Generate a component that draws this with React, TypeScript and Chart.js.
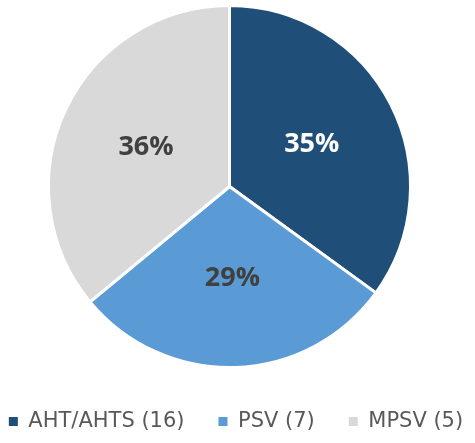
import React, { useEffect, useRef } from "react";
import { Chart, registerables } from "chart.js";

Chart.register(...registerables);

const categories = ["AHT/AHTS (16)", "PSV (7)", "MPSV (5)"];
const shares = [35, 29, 36];
const sliceColors = ["#1F4E79", "#5B9BD5", "#D9D9D9"];
const labelColors = ["#FFFFFF", "#404040", "#404040"];

const pieLabels = {
  id: "pieLabels",
  afterDatasetsDraw(chart: any) {
    const { ctx } = chart;
    const meta = chart.getDatasetMeta(0);
    meta.data.forEach((arc: any, i: number) => {
      const p = arc.getProps(["x", "y", "startAngle", "endAngle", "outerRadius"], true);
      const mid = (p.startAngle + p.endAngle) / 2;
      const r = p.outerRadius * 0.51;
      ctx.save();
      ctx.font = 'bold 27px "Open Sans"';
      ctx.fillStyle = labelColors[i];
      ctx.textAlign = "center";
      ctx.textBaseline = "middle";
      ctx.fillText(`${shares[i]}%`, p.x + Math.cos(mid) * r, p.y + Math.sin(mid) * r);
      ctx.restore();
    });
  },
};

export default function App() {
  const ref = useRef<HTMLCanvasElement>(null);
  useEffect(() => {
    const chart = new Chart(ref.current as HTMLCanvasElement, {
      type: "pie",
      data: {
        labels: categories,
        datasets: [
          {
            data: shares,
            backgroundColor: sliceColors,
            borderColor: "#FFFFFF",
            borderWidth: 3,
            radius: 181,
          },
        ],
      },
      options: {
        responsive: false,
        animation: false,
        layout: { padding: 0 },
        plugins: {
          tooltip: { enabled: false },
          title: {
            display: true,
            text: "",
            position: "right",
            fullSize: false,
            padding: 0,
            font: { size: 13, lineHeight: 1 },
          },
          legend: {
            display: true,
            position: "bottom",
            align: "center",
            labels: {
              boxWidth: 9,
              boxHeight: 9,
              padding: 34,
              color: "#595959",
              font: { family: "'DejaVu Sans'", size: 21 },
              generateLabels: () =>
                categories.map((text, i) => ({
                  text,
                  fillStyle: sliceColors[i],
                  strokeStyle: sliceColors[i],
                  lineWidth: 0,
                  fontColor: "#595959",
                  hidden: false,
                  index: i,
                })),
            },
          },
        },
      } as any,
      plugins: [pieLabels],
    });
    return () => chart.destroy();
  }, []);
  return (
    <div
      style={{
        position: "absolute",
        left: 0,
        top: 0,
        width: 475,
        height: 443,
        overflow: "hidden",
        background: "#FFFFFF",
      }}
    >
      <div style={{ position: "absolute", left: -29, top: -4, width: 530, height: 446 }}>
        <canvas ref={ref} width={530} height={446} style={{ display: "block" }} />
      </div>
    </div>
  );
}
